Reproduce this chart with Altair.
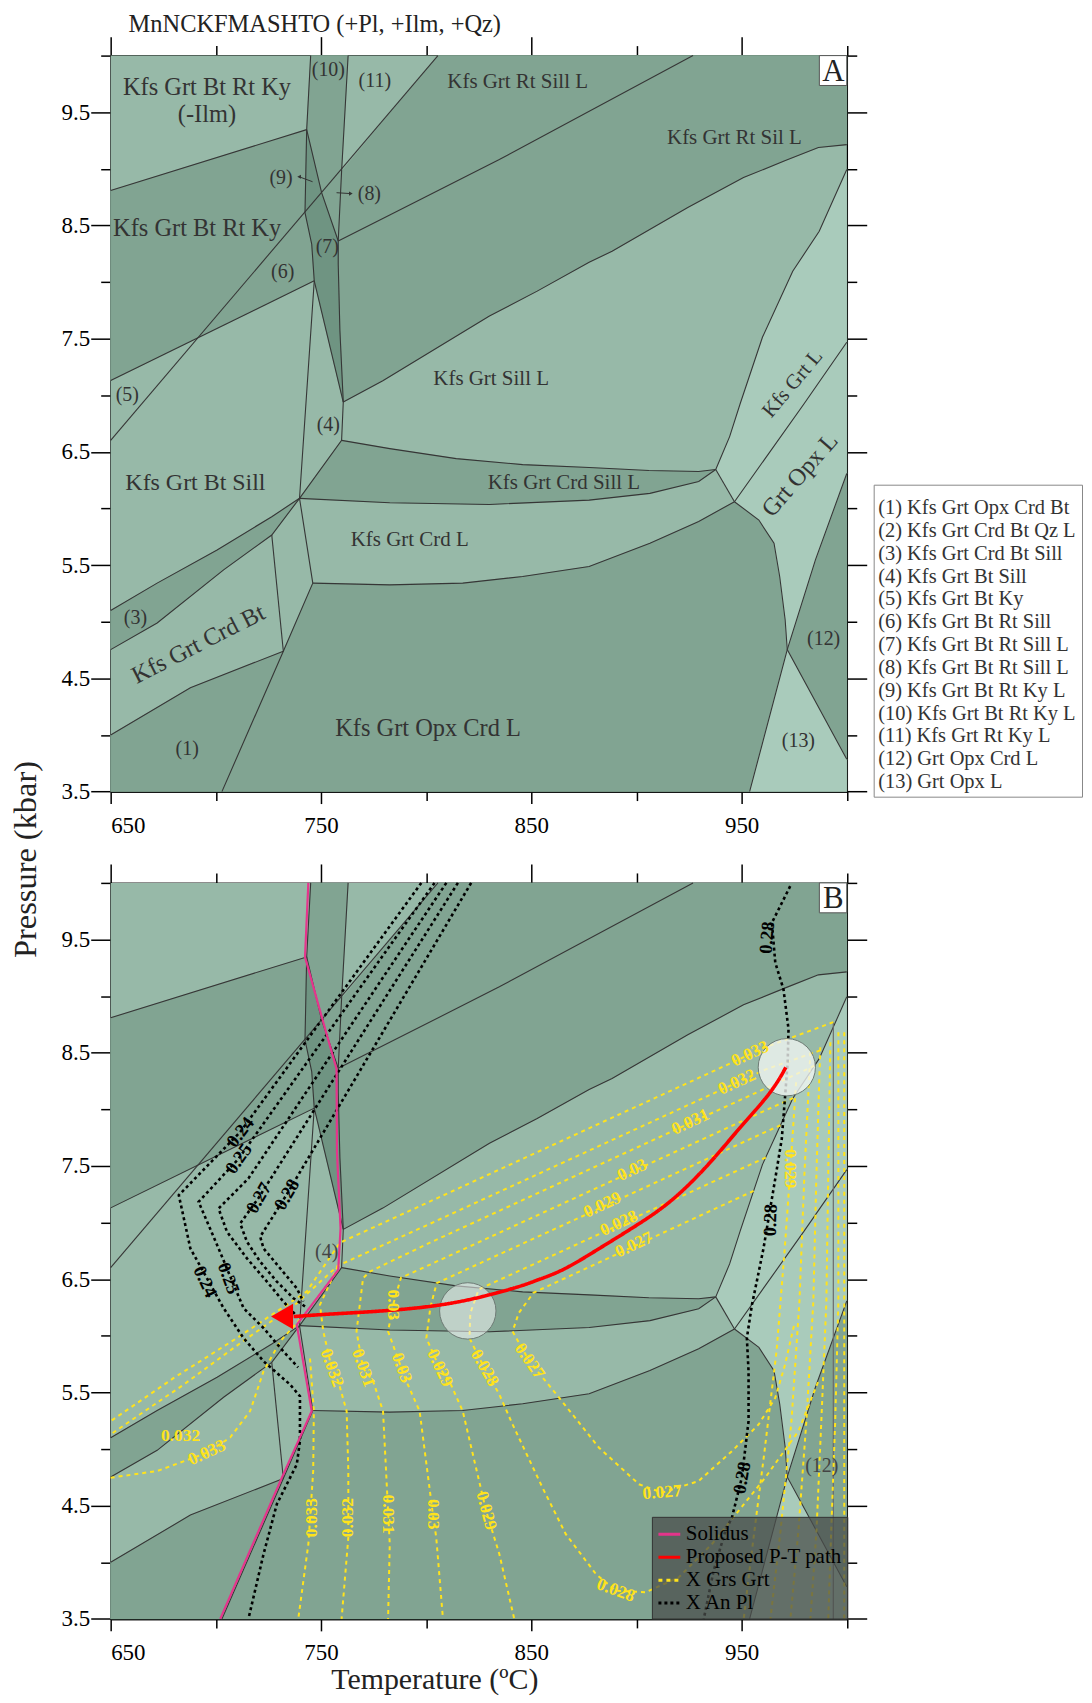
import altair as alt
import pandas as pd

# ---------------- axes ----------------
T_RANGE = [650, 1000]
P_RANGE = [3.5, 10]
x_major = [650, 750, 850, 950]
x_minor = [700, 800, 900, 1000]
y_major = [3.5, 4.5, 5.5, 6.5, 7.5, 8.5, 9.5]
y_minor = [4, 5, 6, 7, 8, 9, 10]

# ---------------- field polygons (T degC, P kbar) ----------------
poly_dark_band = [(650, 8.809), (743.2, 9.346), (742.4, 8.613), (745.6, 8.334), (746.8, 8.011), (650, 7.130)]
poly_dark_10_8 = [(745.1, 10), (762.9, 10), (759.8, 8.979), (758.2, 8.363), (750.3, 8.789), (743.2, 9.346)]
poly_dark_rt_sill = [(805.6, 10), (1000, 10), (1000, 9.214), (986.5, 9.188), (970.8, 9.073), (950.9, 8.923),
                     (924.4, 8.659), (888.4, 8.272), (877.5, 8.175), (852.8, 7.920), (830.1, 7.700), (779.4, 7.128),
                     (760.6, 6.940), (759.0, 7.570), (758.2, 8.158), (758.2, 8.363), (759.8, 8.979)]
poly_dark_crd_sill = [(759.8, 6.602), (782.7, 6.529), (814.3, 6.441), (845.9, 6.388), (877.5, 6.362), (905.9, 6.336),
                      (929.6, 6.327), (937.7, 6.344), (929.6, 6.239), (906.4, 6.134), (877.5, 6.074), (830.1, 6.036),
                      (782.7, 6.051), (739.8, 6.090)]
poly_dark_3 = [(650, 5.100), (672.1, 5.341), (700.6, 5.634), (726.6, 5.928), (739.8, 6.090), (726.6, 5.766),
               (703.7, 5.458), (672.1, 4.989), (650, 4.754)]
poly_dark_1 = [(650, 4.0), (687.9, 4.417), (732.1, 4.740), (702.9, 3.5), (650, 3.5)]
poly_dark_opx_crd = [(746.1, 5.341), (782.7, 5.326), (817.4, 5.341), (845.9, 5.400), (877.5, 5.488), (906.4, 5.693),
                     (929.6, 5.886), (946.6, 6.060), (958.2, 5.898), (965.4, 5.693), (968.1, 5.400), (970.7, 5.018),
                     (971.7, 4.754), (953.8, 3.5), (702.9, 3.5), (732.1, 4.740)]
poly_dark_12 = [(1000, 6.309), (985.1, 5.546), (971.7, 4.754), (1000, 3.785)]
poly_darkest_7_9 = [(743.2, 9.346), (750.3, 8.789), (758.2, 8.363), (758.2, 8.158), (759.0, 7.570), (760.6, 6.940),
                    (746.8, 8.011), (745.6, 8.334), (742.4, 8.613)]
poly_lightest_kfs_grt_l = [(1000, 8.994), (986.9, 8.448), (974.3, 8.096), (959.9, 7.512), (949.3, 6.925),
                           (944.3, 6.635), (937.7, 6.344), (946.6, 6.060), (979.7, 6.925), (1000, 7.468)]
poly_lightest_grt_opx_l = [(1000, 7.468), (946.6, 6.060), (958.2, 5.898), (965.4, 5.693), (968.1, 5.400),
                           (970.7, 5.018), (971.7, 4.754), (985.1, 5.546), (1000, 6.309)]
poly_lightest_13 = [(971.7, 4.754), (1000, 3.785), (1000, 3.5), (953.8, 3.5)]

# ---------------- field boundaries ----------------
ln_L1 = [(650, 8.809), (743.2, 9.346)]
ln_L2 = [(650, 7.130), (746.8, 8.011)]
ln_L3 = [(805.6, 10), (650, 6.602)]
ln_V1 = [(745.1, 10), (743.2, 9.346), (742.4, 8.613), (745.6, 8.334), (746.8, 8.011), (739.8, 6.090)]
ln_D1 = [(743.2, 9.346), (750.3, 8.789), (758.2, 8.363)]
ln_V2 = [(762.9, 10), (759.8, 8.979), (758.2, 8.363), (758.2, 8.158), (759.0, 7.570), (760.6, 6.940),
         (759.8, 6.602), (739.8, 6.090)]
ln_W = [(746.8, 8.011), (760.6, 6.940)]
ln_L4 = [(926.9, 10), (834.8, 9.082), (782.7, 8.592), (758.2, 8.363)]
ln_K = [(1000, 9.214), (986.5, 9.188), (970.8, 9.073), (950.9, 8.923), (924.4, 8.659), (888.4, 8.272),
        (877.5, 8.175), (852.8, 7.920), (830.1, 7.700), (779.4, 7.128), (760.6, 6.940)]
ln_F = [(1000, 8.994), (986.9, 8.448), (974.3, 8.096), (959.9, 7.512), (949.3, 6.925), (944.3, 6.635), (937.7, 6.344)]
ln_G = [(1000, 7.468), (979.7, 6.925), (946.6, 6.060)]
ln_N5N6 = [(937.7, 6.344), (946.6, 6.060)]
ln_H = [(946.6, 6.060), (958.2, 5.898), (965.4, 5.693), (968.1, 5.400), (970.7, 5.018), (971.7, 4.754), (1000, 3.785)]
ln_I = [(1000, 6.309), (985.1, 5.546), (971.7, 4.754), (953.8, 3.5)]
ln_sliver_top = [(759.8, 6.602), (782.7, 6.529), (814.3, 6.441), (845.9, 6.388), (877.5, 6.362), (905.9, 6.336),
                 (929.6, 6.327), (937.7, 6.344)]
ln_sliver_bottom = [(739.8, 6.090), (782.7, 6.051), (830.1, 6.036), (877.5, 6.074), (906.4, 6.134), (929.6, 6.239),
                    (937.7, 6.344)]
ln_tp_n8 = [(739.8, 6.090), (746.1, 5.341)]
ln_crd_bottom = [(746.1, 5.341), (782.7, 5.326), (817.4, 5.341), (845.9, 5.400), (877.5, 5.488), (906.4, 5.693),
                 (929.6, 5.886), (946.6, 6.060)]
ln_n8_n9 = [(746.1, 5.341), (732.1, 4.740), (702.9, 3.5)]
ln_n10_n9 = [(726.6, 5.766), (732.1, 4.740)]
ln_1_top = [(650, 4.0), (687.9, 4.417), (732.1, 4.740)]
ln_3_low = [(650, 4.754), (672.1, 4.989), (703.7, 5.458), (726.6, 5.766), (739.8, 6.090)]
ln_3_up = [(650, 5.100), (672.1, 5.341), (700.6, 5.634), (726.6, 5.928), (739.8, 6.090)]
ln_b_edge = [(993.6, 8.77), (993.6, 3.5)]
arrow_9 = [(746.0, 8.886), (739.6, 8.930)]
arrow_8 = [(757.4, 8.789), (764.2, 8.781)]

# ---------------- field labels (panel A) ----------------
region_labels = ["Kfs Grt Bt Rt Ky", "(-Ilm)", "(10)", "(11)", "Kfs Grt Rt Sill L", "Kfs Grt Rt Sil L", "(9)",
                 "(8)", "Kfs Grt Bt Rt Ky", "(7)", "(6)", "(5)", "Kfs Grt Sill L", "(4)", "Kfs Grt Bt Sill",
                 "Kfs Grt Crd Sill L", "Kfs Grt Crd L", "(3)", "Kfs Grt Crd Bt", "(1)", "Kfs Grt Opx Crd L",
                 "Kfs Grt L", "Grt Opx L", "(12)", "(13)"]
region_T = [695.8, 695.8, 753.5, 775.6, 843.5, 946.6, 731.0, 773.0, 691.1, 753.0, 731.8, 657.9, 830.9, 753.5,
            690.3, 865.5, 792.2, 661.8, 691.8, 686.4, 800.9, 974.3, 977.9, 989.0, 977.0]
region_P = [9.713, 9.478, 9.874, 9.777, 9.771, 9.273, 8.921, 8.780, 8.466, 8.310, 8.085, 6.998, 7.145, 6.734,
            6.221, 6.221, 5.722, 5.033, 4.798, 3.873, 4.049, 7.101, 6.294, 4.848, 3.947]
region_size = [24.5, 24.5, 20, 20, 21, 21, 20, 20, 24.5, 20, 20, 20, 21, 20, 24, 21, 21, 20, 24.5, 20, 24.5, 21,
               24.5, 20, 20]
region_angle = [0, 0, 0, 0, 0, 0, 0, 0, 0, 0, 0, 0, 0, 0, 0, 0, 0, 0, 333, 0, 0, 310, 311, 0, 0]

field_legend = ["(1) Kfs Grt Opx Crd Bt", "(2) Kfs Grt Crd Bt Qz L", "(3) Kfs Grt Crd Bt Sill",
                "(4) Kfs Grt Bt Sill", "(5) Kfs Grt  Bt Ky", "(6) Kfs Grt Bt Rt Sill", "(7) Kfs Grt Bt Rt Sill L",
                "(8) Kfs Grt Bt Rt Sill L", "(9) Kfs Grt Bt Rt Ky L", "(10) Kfs Grt Bt Rt Ky L",
                "(11) Kfs Grt Rt Ky L", "(12) Grt Opx Crd L", "(13) Grt Opx L"]

# ---------------- panel B overlays ----------------
solidus = [(744.0, 10), (742.4, 9.346), (751.1, 8.768), (757.4, 8.357), (757.6, 7.623), (759.3, 6.948),
           (758.2, 6.582), (738.5, 6.098), (745.6, 5.335), (731.4, 4.747), (702.1, 3.5)]
pt_path = [(971.0, 8.37), (964.4, 8.15), (948.6, 7.83), (935.9, 7.54), (917.0, 7.18), (898.0, 6.95), (882.2, 6.77),
           (864.8, 6.57), (852.2, 6.49), (845.9, 6.44), (814.3, 6.28), (782.7, 6.22), (751.1, 6.19), (737.0, 6.17)]
pt_arrow = [(731.5, 6.17)]
circle_peak = [(971.5, 8.372)]
circle_retro = [(819.8, 6.22)]

grs_033_up = [(993.6, 8.77), (961.2, 8.548), (900, 8.025), (850, 7.598), (800, 7.171), (759.0, 6.822),
              (743.2, 6.391), (710.0, 5.980), (680.0, 5.628), (650, 5.247)]
grs_032_up = [(987.4, 8.521), (961.2, 8.351), (900, 7.828), (850, 7.401), (800, 6.974), (758.1, 6.620),
              (738.5, 6.288), (708.4, 5.892), (684.7, 5.569), (650, 5.130)]
grs_032_low = [(758.1, 6.620), (749.5, 6.274), (751.1, 6.039), (755.1, 5.716), (758.2, 5.599), (762.2, 5.335),
               (763.0, 4.806), (763.0, 4.219), (759.8, 3.5)]
grs_033_low = [(744.8, 5.80), (746.6, 5.335), (746.3, 4.806), (744.0, 4.161), (739.2, 3.5)]
grs_033_left = [(650, 4.747), (672.1, 4.806), (695.8, 4.967), (706.8, 5.102), (716.3, 5.335), (722.7, 5.687),
                (730.6, 5.951), (740, 6.145)]
grs_031 = [(984.6, 8.385), (961.2, 8.184), (900, 7.661), (850, 7.234), (800, 6.807), (773, 6.565), (770.0, 6.508),
           (766.9, 6.039), (770.0, 5.716), (774.8, 5.599), (779.5, 5.335), (782.7, 4.161), (781.9, 3.5)]
grs_030 = [(974.5, 8.10), (961.2, 7.990), (900, 7.467), (850, 7.040), (800, 6.613), (788, 6.512), (784.3, 6.274),
           (781.9, 6.039), (788.2, 5.716), (790.6, 5.599), (796.9, 5.335), (803.2, 4.425), (804.8, 4.219), (808.0, 3.5)]
grs_029 = [(968.5, 7.86), (961.2, 7.799), (900, 7.276), (850, 6.849), (805, 6.465), (802, 6.25), (800.1, 5.980),
           (806.4, 5.716), (811.1, 5.599), (817.4, 5.335), (828.5, 4.455), (834.8, 4.073), (841.9, 3.5)]
grs_028 = [(961.5, 7.575), (900, 7.050), (850, 6.623), (825, 6.41), (821, 6.2), (820.6, 5.980), (827.7, 5.716),
           (834.8, 5.482), (841.1, 5.218), (855.3, 4.660), (866.4, 4.249), (880.7, 3.897), (890.1, 3.750),
           (904.4, 3.735), (920.1, 3.867), (935.9, 4.161), (961.2, 4.747), (977.0, 5.158), (986.5, 5.6)]
grs_027 = [(955.7, 7.28), (900, 6.801), (851, 6.38), (844, 6.2), (841.1, 6.039), (849.1, 5.775), (863.3, 5.452),
           (882.2, 5.012), (901.2, 4.689), (912.2, 4.615), (929.6, 4.718), (945.4, 4.982), (958.1, 5.217),
           (966.0, 5.452), (970.7, 5.748), (975, 6.1)]
grs_r029 = [(975.9, 8.239), (973.2, 7.476), (970.4, 6.743), (966.6, 5.863), (960.9, 4.982), (954.3, 4.014), (951.0, 3.5)]
grs_r2 = [(982.7, 8.504), (979.9, 7.447), (977.5, 6.303), (973.7, 5.247), (968.5, 4.278), (963.7, 3.5)]
grs_r3 = [(987.4, 8.548), (985.6, 7.447), (984.1, 6.303), (980.8, 5.247), (977.0, 4.278), (973.2, 3.5)]
grs_r4 = [(992.2, 8.592), (991.2, 7.447), (990.3, 6.303), (987.9, 5.247), (985.6, 4.278), (982.7, 3.5)]
grs_r5 = [(996.0, 8.680), (996.0, 6.303), (994.5, 5.247), (992.6, 4.278), (991.2, 3.5)]
grs_r6 = [(998.8, 8.680), (998.8, 3.5)]

an_024 = [(797.7, 10), (711.6, 7.80), (682.4, 7.242), (687.9, 6.772), (703.7, 6.244), (713.2, 5.980), (722.7, 5.775),
          (735.3, 5.570), (740.0, 5.467), (740.0, 5.070), (738.5, 4.865), (729.0, 4.513), (722.7, 4.073), (715.5, 3.5)]
an_025 = [(804.0, 10), (710.8, 7.564), (691.8, 7.183), (700.6, 6.802), (713.2, 6.244), (722.7, 6.068),
          (732.1, 5.863), (739.1, 5.722)]
an_026 = [(809.6, 10), (715.5, 7.39), (701.3, 7.124), (705.3, 6.919), (714.8, 6.684), (724.3, 6.479),
          (732.1, 6.303), (739.1, 6.162)]
an_027 = [(815.1, 10), (720.3, 7.218), (711.6, 6.992), (714.8, 6.831), (721.1, 6.655), (729.0, 6.479),
          (736.9, 6.332), (742.4, 6.259)]
an_028 = [(821.4, 10), (733.7, 7.248), (721.1, 6.875), (722.7, 6.772), (730.6, 6.596), (738.5, 6.420), (741.6, 6.303)]
an_028_right = [(973.1, 9.971), (968.5, 9.80), (964.4, 9.648), (966.0, 9.296), (969.9, 9.061), (972.3, 8.709),
                (971.9, 8.416), (970.7, 8.122), (969.1, 7.740), (966.0, 7.388), (960.4, 6.772), (957.2, 6.479),
                (954.9, 6.274), (952.5, 5.980), (953.3, 5.687), (953.3, 5.247), (950.1, 4.747), (945.4, 4.395),
                (942.3, 4.278), (936.7, 3.926), (932.0, 3.5)]

an_labels = ["0.24", "0.25", "0.27", "0.28", "0.24", "0.25", "0.28", "0.28", "0.28"]
an_T = [711.6, 710.8, 720.3, 733.7, 695.0, 706.1, 962.0, 963.6, 950.1]
an_P = [7.799, 7.564, 7.218, 7.248, 6.479, 6.508, 9.516, 7.022, 4.747]
an_angle = [308, 305, 300, 300, 65, 70, 275, 272, 280]

grs_labels = ["0.033", "0.032", "0.031", "0.03", "0.029", "0.028", "0.027", "0.029", "0.032", "0.031", "0.03",
              "0.029", "0.028", "0.027", "0.03", "0.033", "0.032", "0.031", "0.03", "0.029", "0.027", "0.028",
              "0.032", "0.033"]
grs_T = [954.1, 947.8, 925.7, 898.0, 883.8, 891.7, 898.8, 973.1, 755.1, 770.0, 788.2, 806.4, 827.7, 849.1, 784.3,
         745.6, 763.0, 781.9, 803.2, 828.5, 912.2, 890.1, 683.2, 695.8]
grs_P = [8.489, 8.239, 7.887, 7.462, 7.154, 6.992, 6.802, 7.476, 5.716, 5.716, 5.716, 5.716, 5.716, 5.775, 6.274,
         4.395, 4.395, 4.425, 4.425, 4.455, 4.615, 3.750, 5.114, 4.967]
grs_angle = [335, 335, 335, 335, 335, 335, 335, 90, 70, 70, 70, 65, 60, 55, 90, 270, 270, 90, 90, 75, 355, 20, 0, 335]

b_labels = ["(4)", "(12)"]
b_T = [752.7, 988.1]
b_P = [6.743, 4.850]

series_names = ["Solidus", "Proposed P-T path", "X Grs Grt", "X An Pl"]

# ---------------- styling ----------------
SERIF = "Liberation Serif"
LIGHT = "#97b9a8"
DARK = "#81a492"
LIGHTEST = "#a9cbbb"
DARKEST = "#6f9482"
EDGE = "#363636"
YELLOW = "#ffe31c"

xs = alt.Scale(domain=T_RANGE, nice=False, zero=False)
ys = alt.Scale(domain=P_RANGE, nice=False, zero=False)


def enc_x(axis=None):
    return alt.X("T:Q", scale=xs, axis=axis)


def enc_y(axis=None):
    return alt.Y("P:Q", scale=ys, axis=axis)


def pts_frame(named):
    rows = []
    for name, pts in named.items():
        for i, (t, p) in enumerate(pts):
            rows.append({"id": name, "i": i, "T": t, "P": p})
    return pd.DataFrame(rows)


def fills(named, color):
    return alt.Chart(pts_frame(named)).mark_line(
        interpolate="linear-closed", fill=color, stroke=color, strokeWidth=0.6
    ).encode(x=enc_x(), y=enc_y(), detail="id:N", order="i:Q")


def lines(named, color, width):
    return alt.Chart(pts_frame(named)).mark_line(color=color, strokeWidth=width).encode(
        x=enc_x(), y=enc_y(), detail="id:N", order="i:Q")


def texts(labels, Ts, Ps, sizes, angles, color, weight="normal"):
    df = pd.DataFrame({"label": labels, "T": Ts, "P": Ps, "fs": sizes, "ang": angles})
    return alt.Chart(df).mark_text(font=SERIF, color=color, fontWeight=weight).encode(
        x=enc_x(), y=enc_y(), text="label:N",
        size=alt.Size("fs:Q", scale=None, legend=None),
        angle=alt.Angle("ang:Q", scale=None))


AX = dict(grid=False, domainColor="black", domainWidth=1.5, tickColor="black", tickWidth=1.5,
          labelFont=SERIF, labelFontSize=23, labelColor="black")
axis_frame = pd.DataFrame({"T": T_RANGE, "P": P_RANGE})


def axis_layers(with_titles):
    bx = dict(orient="bottom", values=x_major, tickSize=12, labelPadding=11, format="d", **AX)
    lx = dict(orient="left", values=y_major, tickSize=20, labelPadding=1, format=".1f", **AX)
    if with_titles:
        bx.update(title="Temperature (ºC)", titleX=324.7, titleY=61, titleAlign="center", titleBaseline="middle",
                  titleFont=SERIF, titleFontSize=30, titleFontWeight="normal", titleColor="#222")
        lx.update(title="Pressure (kbar)", titleX=-85.5, titleY=-24, titleAngle=270, titleAlign="center",
                  titleBaseline="middle", titleFont=SERIF, titleFontSize=32.5, titleFontWeight="normal",
                  titleColor="#222")
    else:
        bx.update(title=None)
        lx.update(title=None)
    pairs = [
        (alt.Axis(**bx), alt.Axis(**lx)),
        (alt.Axis(orient="bottom", values=x_minor, tickSize=9, labels=False, title=None, **AX),
         alt.Axis(orient="left", values=y_minor, tickSize=10, labels=False, title=None, **AX)),
        (alt.Axis(orient="top", values=x_major, tickSize=19, labels=False, title=None, **AX),
         alt.Axis(orient="right", values=y_major, tickSize=20, labels=False, title=None, **AX)),
        (alt.Axis(orient="top", values=x_minor, tickSize=10, labels=False, title=None, **AX),
         alt.Axis(orient="right", values=y_minor, tickSize=10, labels=False, title=None, **AX)),
    ]
    return [alt.Chart(axis_frame).mark_point(opacity=0).encode(x=enc_x(a), y=enc_y(b)) for a, b in pairs]


one = pd.DataFrame({"k": [0]})


def base_layers():
    bg = alt.Chart(pd.DataFrame({"T": [650], "T2": [1000], "P": [3.5], "P2": [10]})).mark_rect(
        fill=LIGHT).encode(x=enc_x(), x2="T2:Q", y=enc_y(), y2="P2:Q")
    dark = fills({"band": poly_dark_band, "10_8": poly_dark_10_8, "rt": poly_dark_rt_sill,
                  "crd_sill": poly_dark_crd_sill, "s3": poly_dark_3, "f1": poly_dark_1,
                  "opx_crd": poly_dark_opx_crd, "f12": poly_dark_12}, DARK)
    darkest = fills({"f7": poly_darkest_7_9}, DARKEST)
    lightest = fills({"kgl": poly_lightest_kfs_grt_l, "gol": poly_lightest_grt_opx_l,
                      "f13": poly_lightest_13}, LIGHTEST)
    edges = lines({"L1": ln_L1, "L2": ln_L2, "L3": ln_L3, "V1": ln_V1, "D1": ln_D1, "V2": ln_V2, "W": ln_W,
                   "L4": ln_L4, "K": ln_K, "F": ln_F, "G": ln_G, "N5N6": ln_N5N6, "H": ln_H, "I": ln_I,
                   "st": ln_sliver_top, "sb": ln_sliver_bottom, "tpn8": ln_tp_n8, "cb": ln_crd_bottom,
                   "n8n9": ln_n8_n9, "n10n9": ln_n10_n9, "t1": ln_1_top, "s3l": ln_3_low, "s3u": ln_3_up},
                  EDGE, 1.1)
    return [bg, dark, darkest, lightest, edges]


def letter_box(letter):
    box = alt.Chart(one).mark_rect(fill="white", stroke="#555", strokeWidth=1).encode(
        x=alt.value(711), x2=alt.value(738.5), y=alt.value(0), y2=alt.value(30))
    txt = alt.Chart(one).mark_text(font=SERIF, fontSize=31, color="#222", align="center", baseline="middle").encode(
        x=alt.value(725), y=alt.value(16.5), text=alt.value(letter))
    return [box, txt]


# ---------------- panel A ----------------
title_A = alt.Chart(one).mark_text(font=SERIF, fontSize=24.5, color="#222", align="left", baseline="middle").encode(
    x=alt.value(18), y=alt.value(-31), text=alt.value("MnNCKFMASHTO (+Pl, +Ilm, +Qz)"))
labels_A = texts(region_labels, region_T, region_P, region_size, region_angle, "#333")
arrows_A = lines({"a9": arrow_9, "a8": arrow_8}, "#333", 1.0)
heads_A = [
    alt.Chart(pd.DataFrame({"T": [arrow_9[-1][0]], "P": [arrow_9[-1][1]]})).mark_point(
        shape="triangle-left", filled=True, color="#333", size=18, opacity=1).encode(x=enc_x(), y=enc_y()),
    alt.Chart(pd.DataFrame({"T": [arrow_8[-1][0]], "P": [arrow_8[-1][1]]})).mark_point(
        shape="triangle-right", filled=True, color="#333", size=18, opacity=1).encode(x=enc_x(), y=enc_y()),
]
legend_box_A = alt.Chart(one).mark_rect(fill="white", stroke="#888", strokeWidth=1).encode(
    x=alt.value(766), x2=alt.value(975), y=alt.value(431), y2=alt.value(744))
legend_txt_A = alt.Chart(one).mark_text(font=SERIF, fontSize=20.5, color="#333", align="left", baseline="top",
                                        lineBreak="\n", lineHeight=22.9).encode(
    x=alt.value(770), y=alt.value(444), text=alt.value("\n".join(field_legend)))

panel_A = alt.layer(
    *base_layers(), labels_A, arrows_A, *heads_A, *letter_box("A"), title_A, legend_box_A, legend_txt_A,
    *axis_layers(False)
).resolve_axis(x="independent", y="independent").properties(width=738.5, height=738.4)

# ---------------- panel B ----------------
color_scale = alt.Scale(domain=series_names, range=["#e5358c", "#ff0000", YELLOW, "#000000"])
dash_scale = alt.Scale(domain=series_names, range=[[1, 0], [1, 0], [4, 4], [3, 3]])
series_legend = alt.Legend(title=None, orient="bottom-right", offset=0, fillColor="rgba(74,78,76,0.74)",
                           strokeColor="#333", padding=5, labelFont=SERIF, labelFontSize=21, labelColor="black",
                           symbolType="stroke", symbolSize=480, symbolStrokeWidth=3, rowPadding=0, labelLimit=400)


def series_lines(named, series, width, interp="linear"):
    df = pts_frame(named)
    df["series"] = series
    return alt.Chart(df).mark_line(strokeWidth=width, interpolate=interp).encode(
        x=enc_x(), y=enc_y(), detail="id:N", order="i:Q",
        color=alt.Color("series:N", scale=color_scale, legend=series_legend),
        strokeDash=alt.StrokeDash("series:N", scale=dash_scale, legend=series_legend))


edge_B = lines({"edge": ln_b_edge}, "#6a6a6a", 1.2)
grs = series_lines({"033u": grs_033_up, "032u": grs_032_up, "032l": grs_032_low, "033l": grs_033_low,
                    "033left": grs_033_left, "031": grs_031, "030": grs_030, "029": grs_029, "028": grs_028,
                    "027": grs_027, "r029": grs_r029, "r2": grs_r2, "r3": grs_r3, "r4": grs_r4, "r5": grs_r5,
                    "r6": grs_r6}, "X Grs Grt", 2.0)
an = series_lines({"24": an_024, "25": an_025, "26": an_026, "27": an_027, "28": an_028, "28r": an_028_right},
                  "X An Pl", 2.6)
sol = series_lines({"sol": solidus}, "Solidus", 2.2)
path = series_lines({"path": pt_path}, "Proposed P-T path", 3.6, "basis")
arrow = alt.Chart(pd.DataFrame({"T": [pt_arrow[0][0]], "P": [pt_arrow[0][1]]})).mark_point(
    shape="triangle-left", filled=True, color="#ff0000", size=650, opacity=1).encode(x=enc_x(), y=enc_y())
circ1 = alt.Chart(pd.DataFrame({"T": [circle_peak[0][0]], "P": [circle_peak[0][1]]})).mark_point(
    shape="circle", filled=True, size=3300, fill="#f2f6f4", fillOpacity=0.78, stroke="#6d7a74", strokeWidth=1,
    opacity=1).encode(x=enc_x(), y=enc_y())
circ2 = alt.Chart(pd.DataFrame({"T": [circle_retro[0][0]], "P": [circle_retro[0][1]]})).mark_point(
    shape="circle", filled=True, size=3200, fill="#f2f6f4", fillOpacity=0.55, stroke="#6d7a74", strokeWidth=1,
    opacity=1).encode(x=enc_x(), y=enc_y())
an_txt = texts(an_labels, an_T, an_P, [18.5] * len(an_labels), an_angle, "black", "bold")
grs_txt = texts(grs_labels, grs_T, grs_P, [17.5] * len(grs_labels), grs_angle, YELLOW, "bold")
b_txt = texts(b_labels, b_T, b_P, [20, 20], [0, 0], "#444")

panel_B = alt.layer(
    *base_layers(), edge_B, grs, an, circ1, circ2, sol, path, arrow, an_txt, grs_txt, b_txt,
    *letter_box("B"), *axis_layers(True)
).resolve_axis(x="independent", y="independent").properties(width=738.5, height=738.4)

chart = alt.vconcat(panel_A, panel_B, spacing=91, bounds="flush").resolve_scale(
    color="independent", strokeDash="independent"
).properties(padding={"left": 0, "top": 0, "right": 0, "bottom": 0}).configure_view(stroke=None).configure(font=SERIF)

chart.save("out.html", embed_options={"renderer": "svg", "actions": False})
